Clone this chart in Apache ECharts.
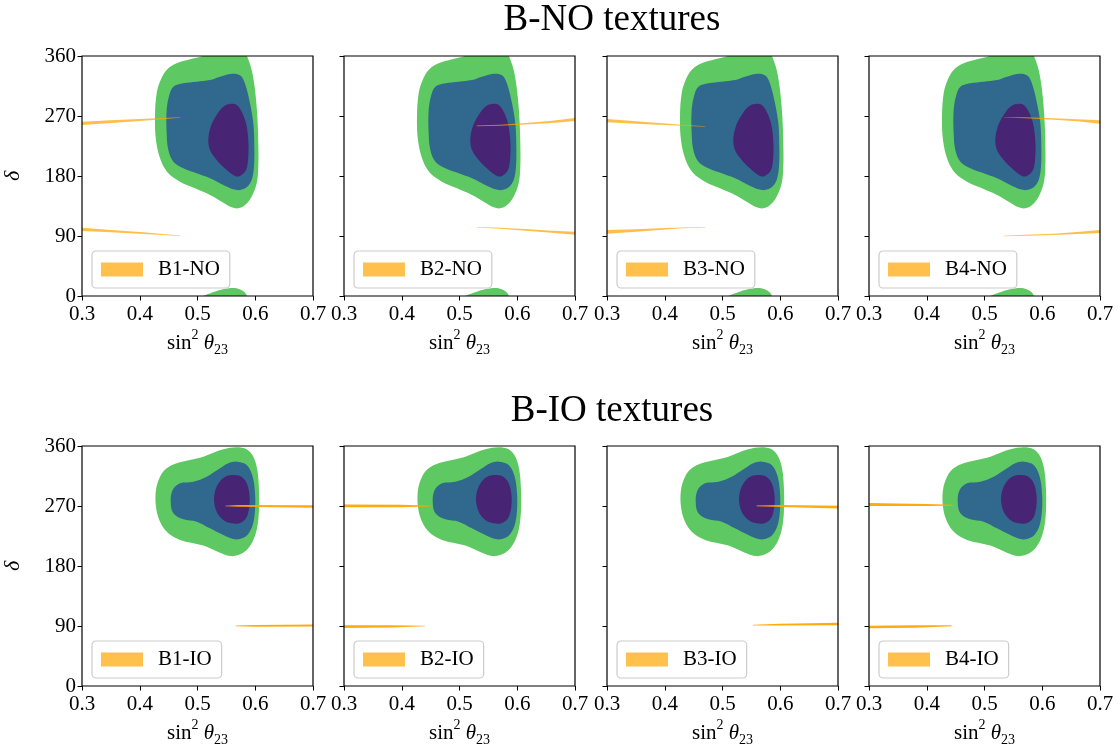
<!DOCTYPE html>
<html>
<head>
<meta charset="utf-8">
<script src="https://cdn.jsdelivr.net/npm/echarts@6/dist/echarts.min.js"></script>
<style>
  html, body { margin: 0; padding: 0; background: #fff; }
  #chart { width: 1118px; height: 751px; }
</style>
</head>
<body>
<div id="chart"></div>
<script>
// Axis ranges and tick values
const sinRange = [0.3, 0.7];
const sinTicks = [0.3, 0.4, 0.5, 0.6, 0.7];
const deltaRange = [0, 360];
const deltaTicks = [0, 90, 180, 270, 360];

const rowTitles = ['B-NO textures', 'B-IO textures'];
const textures = ['B1-NO', 'B2-NO', 'B3-NO', 'B4-NO', 'B1-IO', 'B2-IO', 'B3-IO', 'B4-IO'];

// Global-fit allowed regions, [sin^2 theta23, delta]; NO region wraps past 360
const noRegion3 = [
  [0.6053, 229], [0.6053, 194], [0.6025, 169], [0.5938, 149], [0.5823, 136.5], [0.5707, 131.5],
  [0.5592, 133], [0.5419, 141.5], [0.5216, 151.5], [0.4957, 161.5], [0.4697, 171.5], [0.4495, 184],
  [0.4362, 204], [0.4281, 234], [0.4264, 269], [0.4293, 304], [0.4362, 324], [0.4466, 339],
  [0.4639, 349], [0.4870, 355], [0.5095, 360], [0.5268, 365.5], [0.5441, 370], [0.5615, 372],
  [0.5730, 370], [0.5817, 365.5], [0.5857, 360], [0.5938, 339], [0.5996, 309], [0.6036, 269]
];
const noRegion2 = [
  [0.4582, 314], [0.4755, 319], [0.4986, 321.5], [0.5216, 324], [0.5390, 329], [0.5563, 333],
  [0.5678, 333], [0.5765, 329], [0.5840, 314], [0.5909, 289], [0.5967, 259], [0.5984, 224],
  [0.5978, 194], [0.5938, 174], [0.5852, 163], [0.5736, 159], [0.5620, 160], [0.5447, 166.5],
  [0.5216, 176.5], [0.4986, 184], [0.4755, 191.5], [0.4582, 201.5], [0.4495, 219], [0.4466, 244],
  [0.4466, 279], [0.4512, 301.5]
];
const noRegion1 = [
  [0.5563, 288], [0.5678, 286.5], [0.5765, 276.5], [0.5840, 259], [0.5879, 234], [0.5879, 209],
  [0.5840, 189], [0.5736, 180], [0.5649, 180], [0.5506, 189], [0.5332, 204], [0.5216, 219],
  [0.5187, 234], [0.5229, 254], [0.5332, 271.5], [0.5447, 284]
];
const ioRegion3 = [
  [0.5447, 355], [0.5678, 358], [0.5852, 355], [0.5967, 344], [0.6036, 324], [0.6065, 294],
  [0.6065, 264], [0.6036, 239], [0.5967, 219], [0.5852, 204], [0.5707, 196.5], [0.5563, 195],
  [0.5390, 200], [0.5159, 209], [0.4928, 214], [0.4697, 219], [0.4495, 229], [0.4351, 246.5],
  [0.4281, 269], [0.4281, 294], [0.4351, 314], [0.4466, 326.5], [0.4639, 334], [0.4870, 339],
  [0.5101, 344], [0.5274, 350]
];
const ioRegion2 = [
  [0.5678, 336.5], [0.5852, 331.5], [0.5956, 314], [0.5996, 289], [0.5996, 264], [0.5956, 241.5],
  [0.5863, 226.5], [0.5736, 220.5], [0.5620, 220.5], [0.5447, 226.5], [0.5216, 236.5], [0.4986, 246.5],
  [0.4755, 250], [0.4582, 259], [0.4536, 276.5], [0.4570, 294], [0.4697, 304], [0.4928, 306.5],
  [0.5159, 314], [0.5390, 326.5], [0.5533, 334]
];
const ioRegion1 = [
  [0.5620, 316.5], [0.5736, 315], [0.5840, 306.5], [0.5897, 289], [0.5897, 269], [0.5840, 251.5],
  [0.5724, 244], [0.5592, 244], [0.5447, 249], [0.5332, 261.5], [0.5286, 279], [0.5320, 296.5],
  [0.5419, 310], [0.5516, 315.5]
];

// Texture predictions: each band is rows of [sin^2 theta23, delta_low, delta_high]
const bandsB1NO = [
  [[0.30, 256.5, 261.5], [0.35, 259.5, 263.5], [0.40, 262.5, 265.5], [0.44, 265, 267], [0.47, 267.5, 268]],
  [[0.30, 97.5, 102.5], [0.35, 95.5, 99], [0.40, 93.5, 96], [0.44, 91.5, 93], [0.47, 90, 90.8]]
];
const bandsB2NO = [
  [[0.53, 254.8, 255.6], [0.57, 255.5, 257], [0.62, 257.5, 260], [0.66, 259.5, 263], [0.70, 262.5, 267]],
  [[0.53, 102.8, 103.5], [0.57, 101, 102.5], [0.62, 97.5, 100], [0.66, 95, 98], [0.70, 92, 96.5]]
];
const bandsB3NO = [
  [[0.30, 260.5, 265.5], [0.35, 258.5, 262], [0.39, 257, 259.5], [0.43, 255.5, 257], [0.47, 254, 254.6]],
  [[0.30, 93.5, 99], [0.35, 96.5, 100], [0.39, 99, 101.5], [0.43, 101.5, 102.8], [0.47, 102.8, 103.4]]
];
const bandsB4NO = [
  [[0.533, 267.6, 268.3], [0.57, 266.5, 268], [0.62, 264.5, 266.5], [0.66, 262, 265], [0.70, 258.5, 263.5]],
  [[0.533, 89.8, 90.4], [0.57, 90.5, 91.8], [0.62, 91.5, 93.5], [0.66, 93, 96], [0.70, 94.5, 99]]
];
const bandsB1IO = [
  [[0.548, 269.8, 270.5], [0.57, 268.8, 271.5], [0.70, 267.4, 271]],
  [[0.566, 89.8, 90.6], [0.60, 89, 91.5], [0.70, 89.3, 92.2]]
];
const bandsB2IO = [
  [[0.30, 268, 272.2], [0.40, 268.3, 271.7], [0.449, 269.3, 270.5]],
  [[0.30, 87, 91.2], [0.38, 87.8, 91.2], [0.44, 89.5, 90.5]]
];
const bandsB3IO = [
  [[0.559, 269.5, 270.7], [0.60, 268.5, 271.5], [0.70, 266.3, 270.2]],
  [[0.553, 90.8, 91.8], [0.60, 90.6, 93.2], [0.70, 91.3, 94.7]]
];
const bandsB4IO = [
  [[0.30, 270, 274.5], [0.40, 270, 273], [0.445, 270.5, 272]],
  [[0.30, 86.5, 90.5], [0.38, 87.5, 91], [0.443, 89.5, 91]]
];

const textureBands = [bandsB1NO, bandsB2NO, bandsB3NO, bandsB4NO, bandsB1IO, bandsB2IO, bandsB3IO, bandsB4IO];

// ---- styling / layout ----
const FONT = "'Liberation Serif', 'DejaVu Serif', serif";
const C_GREEN = '#5ec962', C_BLUE = '#31688e', C_PURPLE = '#482475';
const C_BAND_LEGEND = 'rgba(255,165,0,0.7)';
const panelLeft = [82, 344, 607, 869];
const panelWidth = 231;
const rowTop = [56, 446];
const panelHeight = 240;

function regionSeries(idx, poly, color, shifts) {
  return {
    type: 'custom', coordinateSystem: 'cartesian2d',
    xAxisIndex: idx, yAxisIndex: idx, data: [0], silent: true, clip: true, z: 2,
    renderItem: (params, api) => ({
      type: 'group',
      children: shifts.map(s => ({
        type: 'polygon',
        shape: { points: poly.map(p => api.coord([p[0], p[1] + s])), smooth: 0.35 },
        style: { fill: color }
      }))
    })
  };
}

function bandSeries(idx, name, bands, fill) {
  return {
    type: 'custom', name, coordinateSystem: 'cartesian2d',
    xAxisIndex: idx, yAxisIndex: idx, data: [0], silent: true, clip: true, z: 3,
    itemStyle: { color: C_BAND_LEGEND },
    renderItem: (params, api) => ({
      type: 'group',
      children: bands.map(b => ({
        type: 'polygon',
        shape: {
          points: b.map(r => api.coord([r[0], r[2]]))
            .concat(b.slice().reverse().map(r => api.coord([r[0], r[1]])))
        },
        style: { fill: fill }
      }))
    })
  };
}

const grids = [], xAxes = [], yAxes = [], series = [], legends = [];
textures.forEach((name, i) => {
  const row = Math.floor(i / 4), col = i % 4;
  const isNO = row === 0;
  grids.push({
    left: panelLeft[col], top: rowTop[row], width: panelWidth, height: panelHeight,
    show: true, z: 10, backgroundColor: 'transparent', borderColor: '#000', borderWidth: 1.2
  });
  xAxes.push({
    gridIndex: i, type: 'value', min: sinRange[0], max: sinRange[1], interval: 0.1,
    axisLine: { show: false }, splitLine: { show: false },
    axisTick: { show: true, inside: false, length: 4.5, lineStyle: { color: '#000', width: 1 } },
    axisLabel: {
      show: true, margin: 8, color: '#000', fontFamily: FONT, fontSize: 21,
      formatter: v => sinTicks.find(t => Math.abs(t - v) < 1e-6).toFixed(1)
    },
    name: '{n|sin}{sup|2} {th|θ}{sub|23}',
    nameLocation: 'middle', nameGap: 32,
    nameTextStyle: {
      color: '#000', fontFamily: FONT, fontSize: 21,
      rich: {
        n: { fontFamily: FONT, fontSize: 21, color: '#000', lineHeight: 30, verticalAlign: 'middle' },
        sup: { fontFamily: FONT, fontSize: 14, color: '#000', lineHeight: 30, verticalAlign: 'top', padding: [0, 0, 0, 0] },
        th: { fontFamily: FONT, fontSize: 21, fontStyle: 'italic', color: '#000', lineHeight: 30, verticalAlign: 'middle' },
        sub: { fontFamily: FONT, fontSize: 14, color: '#000', lineHeight: 30, verticalAlign: 'bottom', padding: [0, 0, 1, 0] }
      }
    }
  });
  yAxes.push({
    gridIndex: i, type: 'value', min: deltaRange[0], max: deltaRange[1], interval: 90,
    axisLine: { show: false }, splitLine: { show: false },
    axisTick: { show: true, inside: false, length: 4.5, lineStyle: { color: '#000', width: 1 } },
    axisLabel: {
      show: col === 0, margin: 6, color: '#000', fontFamily: FONT, fontSize: 21,
      formatter: v => String(deltaTicks.find(t => t === v))
    },
    name: col === 0 ? 'δ' : '',
    nameLocation: 'middle', nameGap: 58,
    nameTextStyle: { color: '#000', fontFamily: FONT, fontSize: 22, fontStyle: 'italic' }
  });

  const r3 = isNO ? noRegion3 : ioRegion3;
  const r2 = isNO ? noRegion2 : ioRegion2;
  const r1 = isNO ? noRegion1 : ioRegion1;
  series.push(regionSeries(i, r3, C_GREEN, isNO ? [0, -360] : [0]));
  series.push(regionSeries(i, r2, C_BLUE, [0]));
  series.push(regionSeries(i, r1, C_PURPLE, [0]));
  series.push(bandSeries(i, name, textureBands[i], isNO ? 'rgba(255,165,0,0.72)' : 'rgba(255,165,0,0.95)'));

  legends.push({
    data: [name], selectedMode: false,
    left: panelLeft[col] + 10, top: rowTop[row] + 195,
    orient: 'horizontal', icon: 'rect', itemWidth: 42, itemHeight: 14,
    padding: [8, 10, 8, 9],
    backgroundColor: 'rgba(255,255,255,0.8)', borderColor: '#cccccc', borderWidth: 1.2, borderRadius: 4,
    textStyle: { color: '#000', fontFamily: FONT, fontSize: 21, padding: [0, 0, 0, 10] }
  });
});

const chart = echarts.init(document.getElementById('chart'), null, { renderer: 'canvas' });
chart.setOption({
  animation: false,
  backgroundColor: '#fff',
  title: rowTitles.map((t, r) => ({
    text: t, left: 607, top: r === 0 ? -3 : 388, textAlign: 'center',
    textStyle: { color: '#000', fontFamily: FONT, fontSize: 37, fontWeight: 'normal' }
  })),
  legend: legends,
  grid: grids,
  xAxis: xAxes,
  yAxis: yAxes,
  series: series
});
</script>
</body>
</html>
